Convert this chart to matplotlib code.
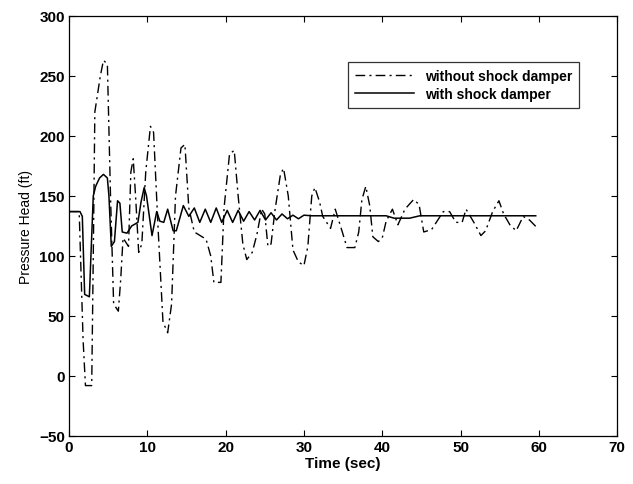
import matplotlib.pyplot as plt

plt.rcParams['font.family'] = ['Liberation Sans', 'DejaVu Sans']

# without shock damper (dash-dot curve)
t_without = [0, 1.3, 1.8, 2.1, 2.9, 3.1, 3.3, 4.0, 4.4, 4.9, 5.3, 5.7, 6.3, 6.6, 6.9,
             7.6, 7.9, 8.2, 8.5, 8.9, 9.3, 9.8, 10.4, 10.8, 11.4, 12.0, 12.6, 13.1,
             13.6, 14.3, 14.8, 15.3, 16.0, 17.5, 18.1, 18.5, 19.4, 19.8, 20.5, 21.1,
             21.6, 22.2, 22.7, 23.4, 24.0, 24.6, 25.0, 25.4, 25.8, 26.3, 27.0, 27.4,
             28.0, 28.6, 29.3, 30.0, 30.5, 31.0, 31.4, 32.0, 32.4, 33.4, 34.0, 34.9,
             35.5, 36.5, 37.0, 37.4, 37.9, 38.4, 38.8, 39.5, 40.0, 40.5, 41.3, 42.0,
             42.9, 44.0, 44.7, 45.3, 46.3, 47.2, 47.8, 48.6, 49.4, 50.2, 50.7, 51.7,
             52.6, 53.2, 54.1, 54.9, 55.5, 56.3, 57.1, 58.0, 58.8, 59.7]
p_without = [137, 137, 30, -8, -8, 100, 220, 250, 263, 260, 150, 60, 54, 80, 115,
             108, 170, 181, 150, 103, 110, 170, 208, 203, 120, 45, 36, 60,
             150, 190, 193, 140, 120, 114, 100, 78, 78, 140, 185, 188,
             150, 110, 97, 103, 118, 139, 135, 108, 110, 138, 168, 173,
             150, 105, 95, 92, 108, 150, 157, 145, 133, 123, 139, 120,
             107, 107, 120, 147, 158, 142, 116, 112, 115, 129, 139, 126,
             139, 147, 143, 120, 122, 131, 137, 137, 128, 128, 139, 128,
             117, 121, 137, 146, 135, 126, 121, 133, 130, 124]

# with shock damper (solid curve)
t_with = [0, 1.4, 1.7, 2.0, 2.6, 2.8, 3.1, 3.4, 3.9, 4.4, 4.9, 5.1, 5.4, 5.8, 6.2,
          6.5, 6.8, 7.4, 8.0, 8.8, 9.2, 9.6, 9.9, 10.6, 11.2, 11.6, 12.1, 12.6,
          13.3, 13.7, 14.6, 15.3, 16.0, 16.7, 17.4, 18.1, 18.8, 19.5, 20.2, 20.9,
          21.6, 22.3, 23.0, 23.7, 24.4, 25.1, 25.8, 26.5, 27.2, 27.9, 28.6, 29.3,
          30.0, 31.0, 35.0, 40.5, 41.5, 43.5, 44.8, 50.0, 55.0, 59.6]
p_with = [137, 137, 133, 68, 66, 100, 150, 158, 165, 168, 165, 150, 108, 112, 146,
          144, 120, 119, 125, 128, 145, 157, 150, 117, 137, 129, 128, 139,
          121, 121, 142, 133, 140, 128, 139, 128, 140, 128, 138, 128,
          138, 129, 137, 130, 138, 130, 136, 130, 135, 131, 134, 131,
          134, 133.5, 133.5, 133.5, 131.5, 131.5, 133.5, 133.5, 133.5, 133.5]

x_ticks = [0, 10, 20, 30, 40, 50, 60, 70]
y_ticks = [-50, 0, 50, 100, 150, 200, 250, 300]

fig = plt.figure(figsize=(6.33, 4.85), dpi=100)
ax = fig.add_axes([0.109, 0.099, 0.866, 0.866])

ax.plot(t_without, p_without, color='black', lw=1.0,
        linestyle=(0, (7, 3, 1.5, 3)), label='without shock damper')
ax.plot(t_with, p_with, color='black', lw=1.1, label='with shock damper')

ax.set_xlim(0, 70)
ax.set_ylim(-50, 300)
ax.set_xticks(x_ticks)
ax.set_yticks(y_ticks)
ax.tick_params(direction='in', top=True, right=True, length=4, width=0.8,
               labelsize=11, pad=3)
for lab in ax.get_xticklabels() + ax.get_yticklabels():
    lab.set_fontweight('bold')
for s in ax.spines.values():
    s.set_linewidth(0.9)

ax.set_xlabel('Time (sec)', fontsize=11, fontweight='bold', labelpad=1)
ax.set_ylabel('Pressure Head (ft)', fontsize=10, labelpad=4)

leg = ax.legend(loc='upper right', bbox_to_anchor=(0.943, 0.907),
                prop={'weight': 'bold', 'size': 10}, frameon=True, fancybox=False,
                edgecolor='black', handlelength=4.2, borderpad=0.5, labelspacing=0.3)
leg.get_frame().set_linewidth(0.9)

fig.savefig('out.png', dpi=100)
